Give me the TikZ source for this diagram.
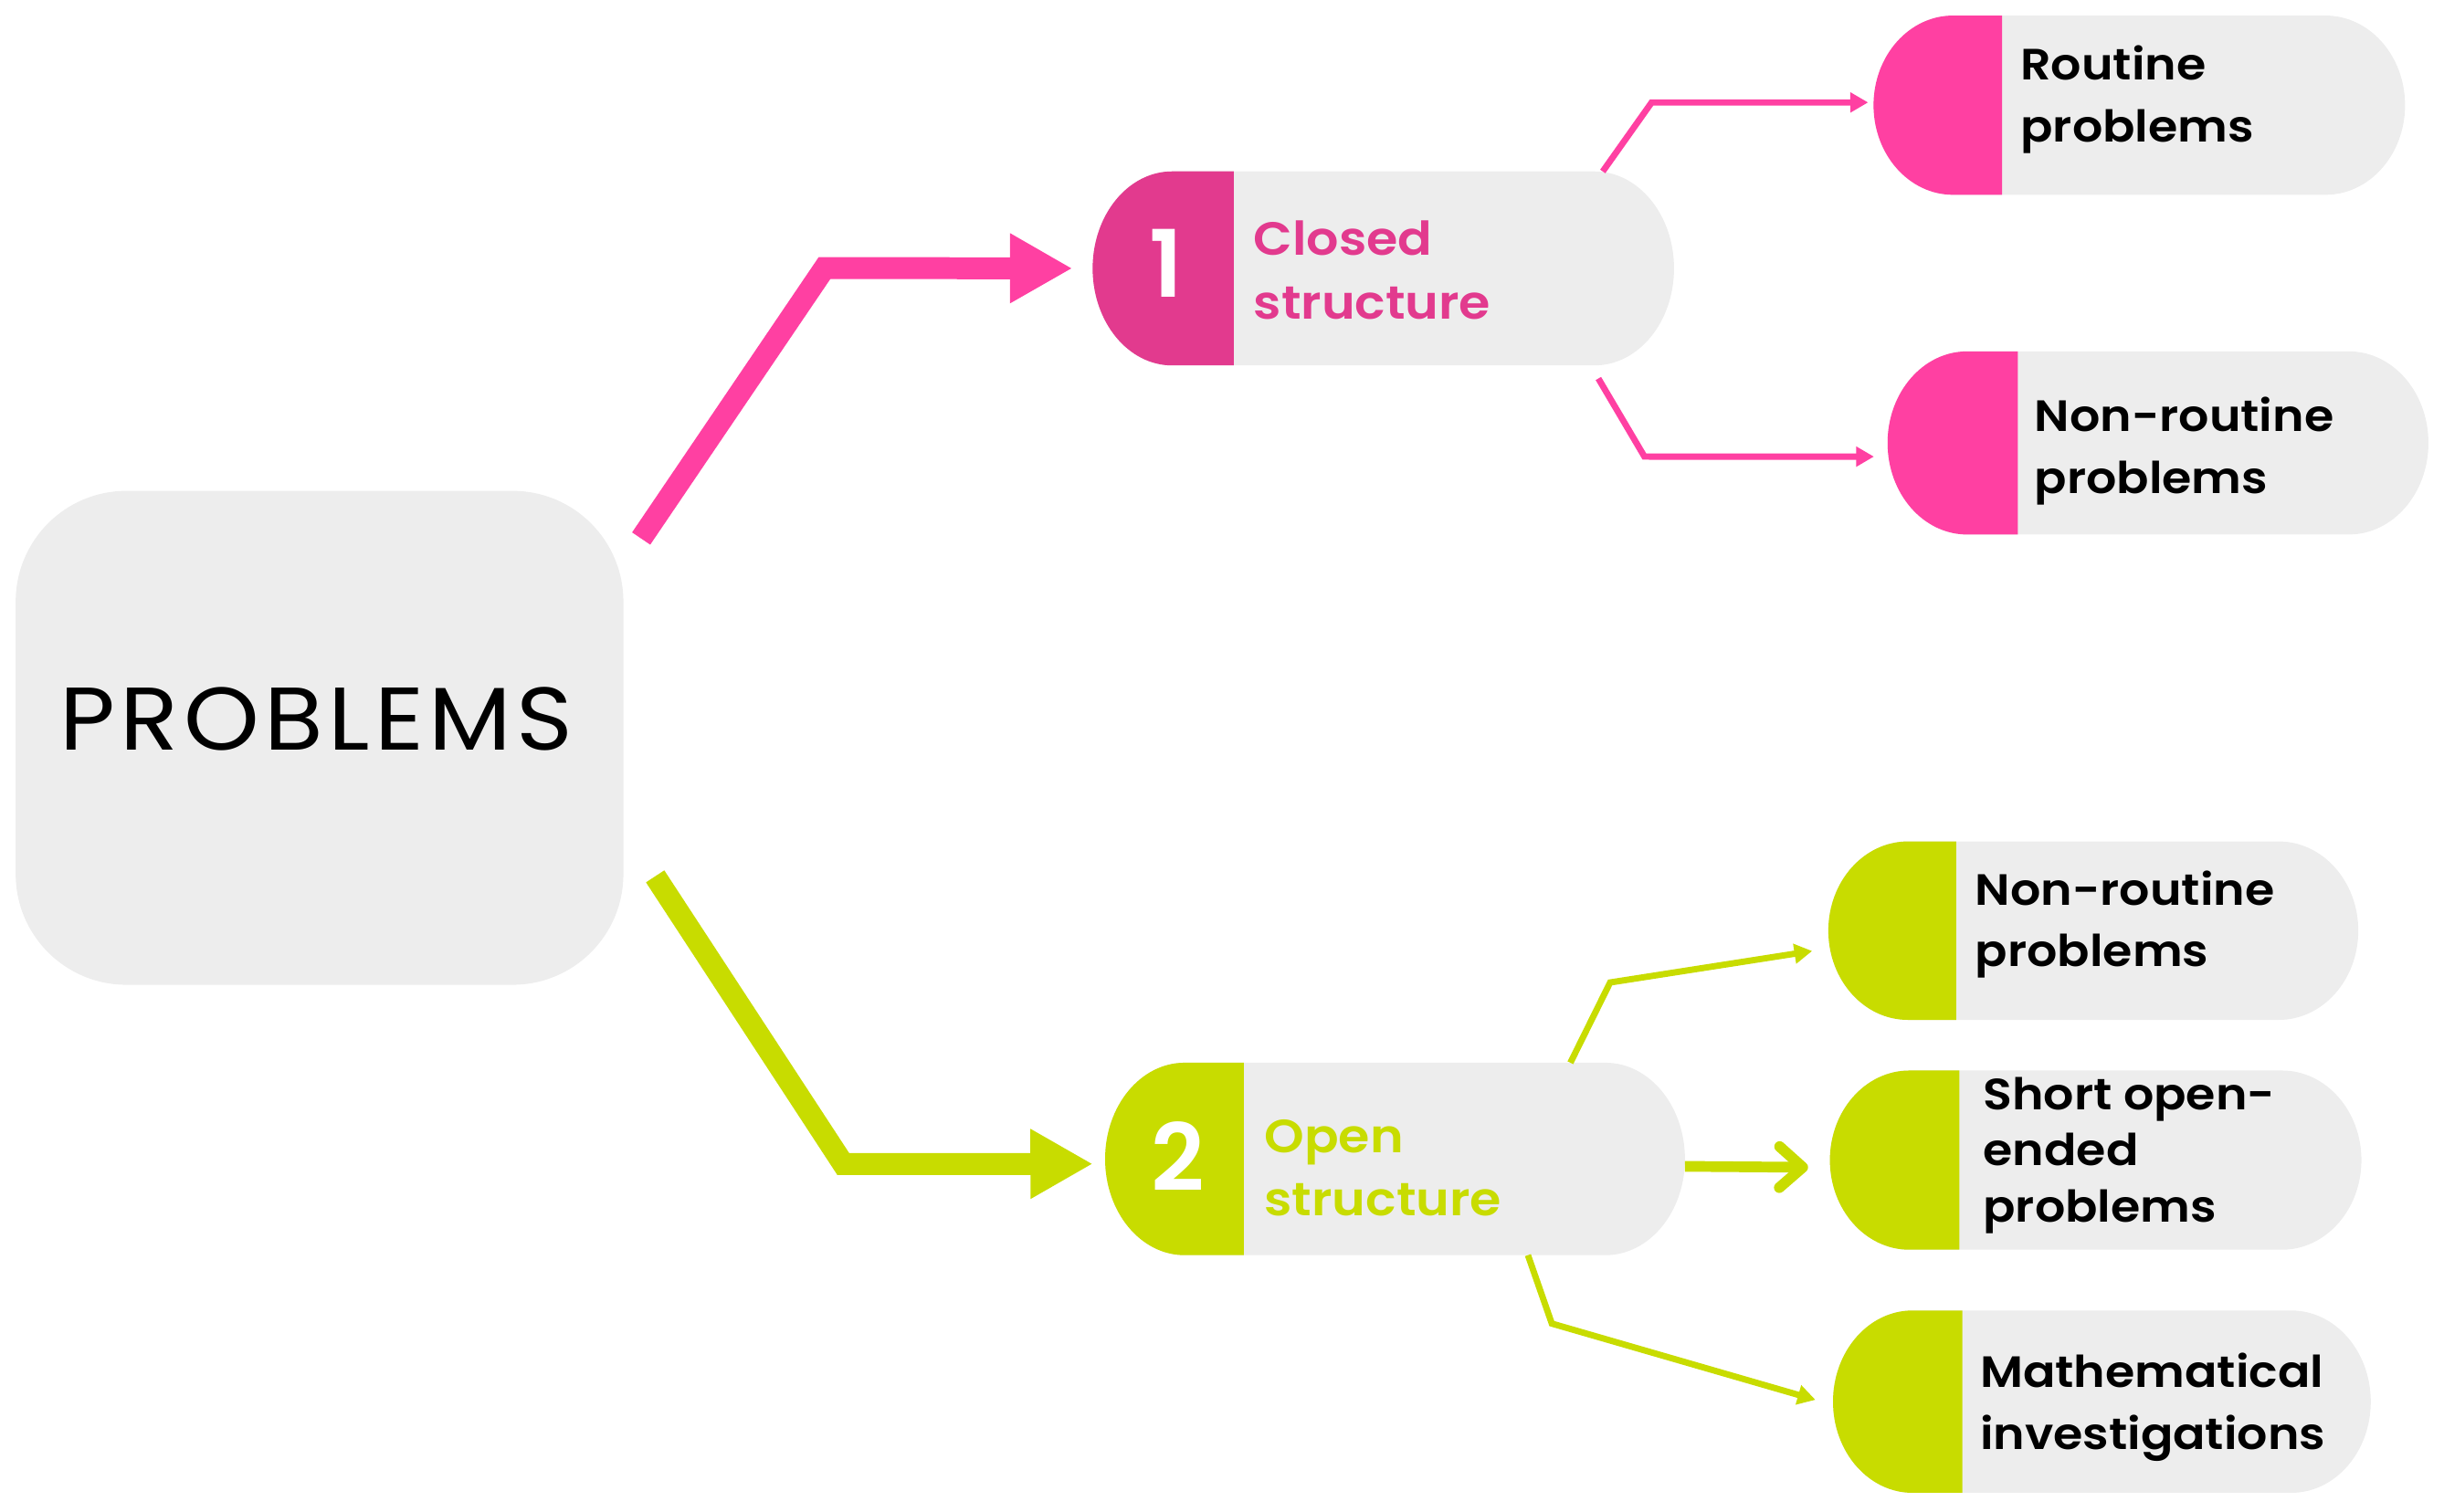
\documentclass[tikz,border=0pt]{standalone}
\usepackage{fontspec}
\setmainfont{Poppins}[BoldFont={* SemiBold}]
\usetikzlibrary{arrows.meta}
\definecolor{pinkA}{HTML}{FF40A2}
\definecolor{pinkD}{HTML}{E23A8E}
\definecolor{limeA}{HTML}{C8DC00}
\definecolor{pillgray}{HTML}{EDEDED}
% pill: name, x0, y0, x1, y1, xsplit, colour
\newcommand\pillshape[7]{%
  \fill[pillgray] ({#2+51},#3) -- ({#4-51},#3)
    arc[start angle=-90,end angle=90,x radius=51,y radius={(#5-#3)/2}]
    -- ({#2+51},#5)
    arc[start angle=90,end angle=270,x radius=51,y radius={(#5-#3)/2}] -- cycle;
  \fill[#7] (#6,#3) -- ({#2+51},#3)
    arc[start angle=270,end angle=90,x radius=51,y radius={(#5-#3)/2}]
    -- (#6,#5) -- cycle;
  \node[pillnode, minimum width={(#4-#2)*0.569pt}, minimum height={(#5-#3)*0.569pt}]
    (#1) at ({(#2+#4)/2},{(#3+#5)/2}) {};
}
\tikzset{
  pillnode/.style={inner sep=0pt, outer sep=0pt, draw=none},
  pilltext/.style={anchor=north west, inner sep=0pt, align=left,
    font=\fontsize{16}{22.5}\selectfont\bfseries\addfontfeatures{FakeStretch=1.09}, text=black},
  bigtext/.style={anchor=north west, inner sep=0pt, align=left,
    font=\fontsize{17}{23.3}\selectfont\bfseries\addfontfeatures{FakeStretch=1.09}},
  numtext/.style={font=\fontsize{34}{34}\selectfont\bfseries, text=white, inner sep=0pt},
  thickarrow/.style={line width=8pt, line join=miter,
    -{Triangle[length=22.8pt,width=23.9pt]}},
  thinarrow/.style={line width=2.3pt, line join=miter,
    -{Triangle[length=6.5pt,width=7pt]}},
}
\begin{document}
\begin{tikzpicture}[x=0.02cm, y=-0.02cm]
\useasboundingbox (0,0) rectangle (1568,970);

% central box
\node[fill=pillgray, rounded corners=40.4pt, minimum width=221.9pt,
  minimum height=180.4pt, inner sep=0pt] (pb) at (205,473.5) {};
\node[font=\fontsize{32.5}{32.5}\selectfont\addfontfeatures{FakeStretch=1.08,LetterSpace=5.6},
  inner sep=0pt] (pbt) at (203,461.5) {PROBLEMS};

% pills
\pillshape{cs}{701}{110}{1074}{234.5}{791.5}{pinkD}
\pillshape{os}{709}{682}{1081}{805.5}{798}{limeA}
\pillshape{rt}{1202}{10}{1543}{125}{1284.5}{pinkA}
\pillshape{nra}{1211}{225.5}{1558}{343}{1294.5}{pinkA}
\pillshape{nrb}{1173}{540}{1513}{654.5}{1255}{limeA}
\pillshape{so}{1174}{687}{1515}{802}{1257}{limeA}
\pillshape{mi}{1176}{841}{1521}{958}{1259}{limeA}

% numbers
\node[numtext] (n1) at (748,169) {1};
\node[numtext] (n2) at (756,742) {2};

% texts
\node[bigtext, text=pinkD] (cst) at (804,141.6) {Closed\\structure};
\node[bigtext, text=limeA] (ost) at (811,718) {Open\\structure};
\node[pilltext] (rtt) at (1296,29) {Routine\\problems};
\node[pilltext] (nrat) at (1305,254.5) {Non-routine\\problems};
\node[pilltext] (nrbt) at (1267,558.4) {Non-routine\\problems};
\node[pilltext, font=\fontsize{16}{20.5}\selectfont\bfseries\addfontfeatures{FakeStretch=1.09}] (sot) at (1272,691) {Short open-\\ended\\problems};
\node[pilltext] (mit) at (1270,868) {Mathematical\\investigations};

% thick arrows
\draw[thickarrow, pinkA] ([xshift=6.3pt,yshift=-17.6pt]pb.north east) -- (529,172)
  -- (cs.west) [shorten >=7.4pt];
\draw[thickarrow, limeA] ([xshift=11.4pt,yshift=39.8pt]pb.south east) -- (541,747)
  -- ([yshift=-1.8pt]os.west) [shorten >=4.5pt];

% thin pink arrows
\draw[thinarrow, pinkA, shorten >=2pt] ([xshift=-26pt]cs.north east) -- (1059.6,65.8)
  -- ([yshift=1pt]rt.west);
\draw[thinarrow, pinkA, shorten >=5pt] ([xshift=-27.6pt,yshift=-4.8pt]cs.south east)
  -- (1055,293) -- ([yshift=-5pt]nra.west);

% thin lime arrows
\draw[thinarrow, limeA, shorten >=6pt] ([xshift=-41.8pt]os.north east)
  -- (1033,630.5) -- ([yshift=-6.5pt]nrb.west);
\draw[limeA, line width=3.9pt, -{Straight Barb[length=8.5pt,width=15pt,round]}, shorten >=8pt]
  ([yshift=-2.7pt]os.east) -- ([yshift=-2.7pt]so.west);
\draw[thinarrow, limeA, shorten >=6.7pt] ([xshift=-57.3pt]os.south east)
  -- (995.6,849.4) -- ([yshift=-1.2pt]mi.west);
\end{tikzpicture}
\end{document}
